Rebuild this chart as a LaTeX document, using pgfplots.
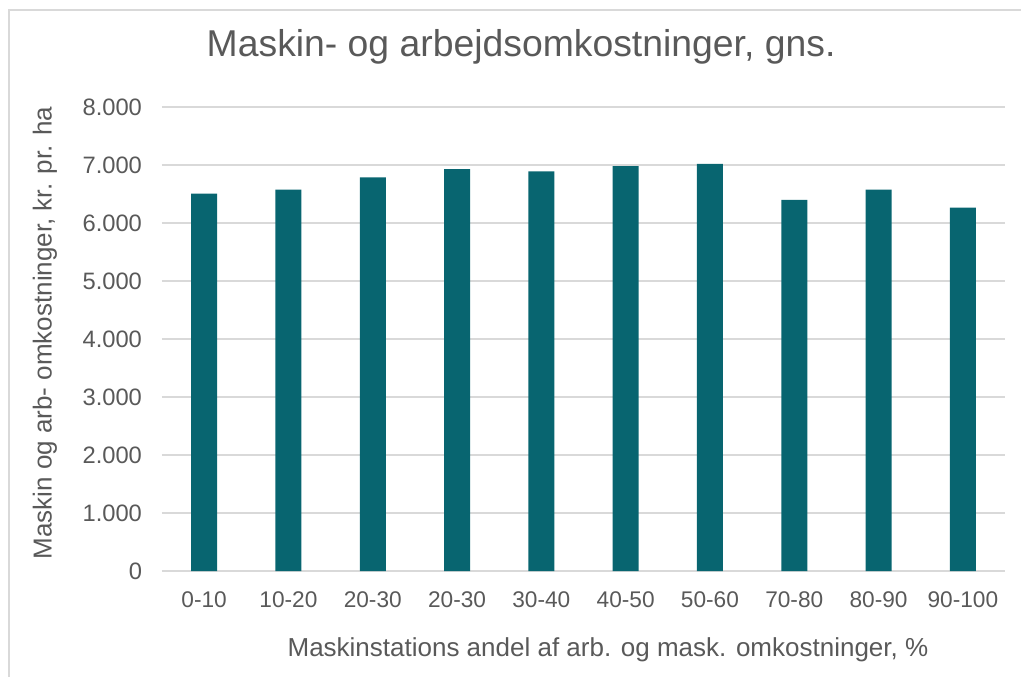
\documentclass[border=0pt]{standalone}
\usepackage{pgfplots}
\pgfplotsset{compat=1.18}
\usepackage{fontspec}
\setmainfont{Liberation Sans}
\definecolor{barc}{HTML}{086570}
\definecolor{txtc}{HTML}{595959}
\definecolor{gridc}{HTML}{D9D9D9}
\pgfplotstableread{
x y
0 6505
1 6575
2 6785
3 6930
4 6890
5 6980
6 7020
7 6400
8 6575
9 6265
}\data
\begin{document}
\begin{tikzpicture}[x=0.75pt,y=0.75pt]
\useasboundingbox (0,0) rectangle (1021,676);
\draw[gridc, line width=1.2pt] (9,-5) -- (9,666) -- (1030,666);
\begin{axis}[
  at={(121.5pt,78.75pt)}, anchor=south west,
  scale only axis, width=632.25pt, height=348pt,
  xmin=-0.5, xmax=9.5, ymin=0, ymax=8000,
  xtick={0,...,9},
  xticklabels={0-10,10-20,20-30,20-30,30-40,40-50,50-60,70-80,80-90,90-100},
  ytick={0,1000,...,8000},
  xmajorgrids=false,
  ymajorgrids=true,
  y grid style={gridc, line width=1pt},
  axis line style={draw=none},
  major tick length=0pt,
  tick style={draw=none},
  tick label style={font=\fontsize{17}{19}\selectfont, text=txtc},
  yticklabel style={xshift=-11.5pt, font=\fontsize{17.8}{19}\selectfont},
  xticklabel style={yshift=-12pt},
  /pgf/number format/.cd, 1000 sep={.}, assume math mode=true,
  /pgfplots/.cd,
  title={Maskin- og arbejdsomkostninger, gns.},
  title style={at={(axis description cs:0.426,1)}, anchor=center, yshift=39pt, font=\fontsize{28}{30}\selectfont, text=txtc},
  xlabel={Maskinstations andel af arb. og mask. omkostninger, \%},
  every axis x label/.style={at={(axis description cs:0.529,0)}, anchor=center, yshift=-59.25pt, font=\fontsize{19.5}{21}\selectfont, text=txtc},
  ylabel={Maskin og arb- omkostninger, kr. pr. ha},
  every axis y label/.style={at={(axis description cs:-0.1388,0.513)}, rotate=90, anchor=center, font=\fontsize{19.5}{21}\selectfont, text=txtc},
]
\addplot[ybar, bar width=19.5pt, fill=barc, draw=none] table[x=x,y=y]{\data};
\end{axis}
\end{tikzpicture}
\end{document}
